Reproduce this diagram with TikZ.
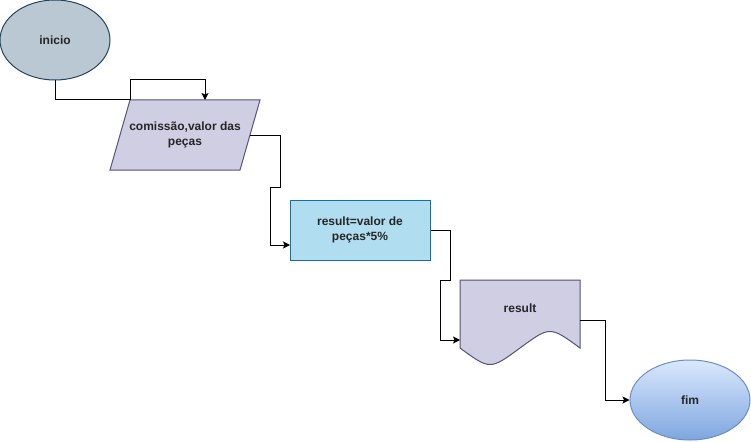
\documentclass[tikz,border=0pt]{standalone}
\usepackage{fontspec}
\setmainfont{Liberation Sans}
\usepackage{tikz}
\usetikzlibrary{shapes.geometric, arrows.meta}

\definecolor{inicioFill}{HTML}{BAC8D3}
\definecolor{inicioLine}{HTML}{23445D}
\definecolor{lilasFill}{HTML}{D0CEE2}
\definecolor{lilasLine}{HTML}{56517E}
\definecolor{azulFill}{HTML}{B1DDF0}
\definecolor{azulLine}{HTML}{10739E}
\definecolor{fimTop}{HTML}{DAE8FC}
\definecolor{fimBottom}{HTML}{7EA6E0}
\definecolor{fimLine}{HTML}{6C8EBF}

\tikzset{
    rotulo/.style={font=\fontsize{12}{15}\selectfont\bfseries, align=center, text=black!85},
    seta/.style={line width=1pt, -{Stealth[length=7pt, width=7pt, inset=1.5pt]}},
    linha/.style={line width=1pt}
}

\begin{document}
\begin{tikzpicture}[x=1pt, y=-1pt]
    \useasboundingbox (0,0) rectangle (751,441);

    % Start ellipse
    \node[ellipse, draw=inicioLine, fill=inicioFill, line width=1pt, minimum width=110pt, minimum height=80pt, inner sep=0pt, rotulo] (inicio) at (55,40) {inicio};

    % Input parallelogram
    \coordinate (E1) at (130,100);
    \coordinate (E2) at (260,100);
    \coordinate (E3) at (240,170);
    \coordinate (E4) at (110,170);
    \draw[draw=lilasLine, fill=lilasFill, line width=1pt] (E1) -- (E2) -- (E3) -- (E4) -- cycle;
    \node[rotulo] (entrada) at (185,135) {comissão,valor das\\peças};
    \coordinate (entradaTopo) at (205,100);
    \coordinate (entradaDir) at (250,135);

    % Process box
    \node[rectangle, draw=azulLine, fill=azulFill, line width=1pt, minimum width=140pt, minimum height=60pt, inner sep=0pt, rotulo] (calculo) at (360,230) {result=valor de\\peças*5\%};

    % Output document
    \draw[draw=lilasLine, fill=lilasFill, line width=1pt]
        (460,280) -- (580,280) -- (580,348)
        .. controls (550,326) .. (520,348)
        .. controls (490,370) .. (460,348) -- cycle;
    \node[rotulo] (saida) at (520,308) {result};

    % End ellipse
    \node[ellipse, draw=fimLine, top color=fimTop, bottom color=fimBottom, line width=1pt, minimum width=120pt, minimum height=80pt, inner sep=0pt, rotulo] (fim) at (690,400) {fim};

    % Connectors
    \coordinate (c1) at (130,80);
    \draw[seta] (inicio.south) |- (E1) -- (c1) -| (entradaTopo);

    \coordinate (c2) at (280,187);
    \coordinate (c3) at (290,245);
    \draw[seta] (entradaDir) -| (c2) -- ++(-10,0) |- (c3);

    \coordinate (c4) at (450,280);
    \coordinate (c5) at (460,340);
    \draw[seta] (calculo.east) -| (c4) -- ++(-10,0) |- (c5);

    \coordinate (c6) at (580,320);
    \draw[seta] (c6) -| ++(25,80) -- (fim.west);
\end{tikzpicture}
\end{document}
